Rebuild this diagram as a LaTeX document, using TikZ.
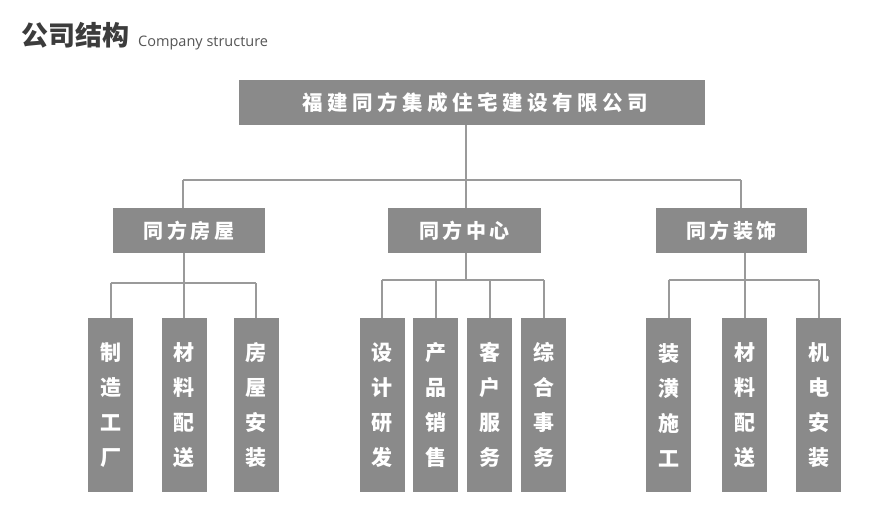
\documentclass[tikz,border=0pt]{standalone}
\usepackage{fontspec}
\setmainfont{Open Sans}
\newfontfamily\cjk{Noto Sans CJK SC Black}
\definecolor{boxgray}{HTML}{8A8A8A}
\definecolor{linegray}{HTML}{9A9A9A}
\definecolor{titlegray}{HTML}{3C3C3C}
\definecolor{subgray}{HTML}{555555}
\makeatletter
\newcommand\spaced[2]{\hspace*{-#1}\def\sp@gap{\hspace*{#1}}\sp@loop#2\@nil}
\def\sp@loop#1{\ifx\@nil#1\else\sp@gap#1\expandafter\sp@loop\fi}
\makeatother
\tikzset{
  topbox/.style={fill=boxgray, text=white, inner sep=0pt, minimum width=466pt, minimum height=45pt,
    font=\cjk\fontsize{20.5}{24}\selectfont},
  midbox/.style={fill=boxgray, text=white, inner sep=0pt, minimum height=45pt,
    font=\cjk\fontsize{20}{24}\selectfont},
  leafbox/.style={fill=boxgray, text=white, inner sep=0pt, minimum width=45pt, minimum height=174pt,
    align=center, font=\cjk\fontsize{21}{35}\selectfont},
  conn/.style={draw=linegray, line width=2pt}
}
\begin{document}
\begin{tikzpicture}[x=1pt,y=-1pt]
\fill[white] (0,0) rectangle (884,523);
\useasboundingbox (0,0) rectangle (884,523);

\node[anchor=base west, inner sep=0pt, text=titlegray, font=\cjk\fontsize{27}{30}\selectfont] (title) at (21,45) {公司结构};
\node[anchor=base west, inner sep=0pt, text=subgray, font=\fontsize{14.5}{17}\selectfont] (subtitle) at (138,46) {Company structure};

\node[topbox] (top) at (472,102.5) {\hspace*{6pt}\spaced{4.5pt}{福建同方集成住宅建设有限公司}};

\node[midbox, minimum width=152pt] (b1) at (189,230.5) {\spaced{3.5pt}{同方房屋}};
\node[midbox, minimum width=153pt] (b2) at (464.5,230.5) {\spaced{3.5pt}{同方中心}};
\node[midbox, minimum width=151pt] (b3) at (731.5,230.5) {\spaced{3.5pt}{同方装饰}};

\node[leafbox] (l11) at (110.5,405) {制\\造\\工\\厂};
\node[leafbox] (l12) at (184,405) {材\\料\\配\\送};
\node[leafbox] (l13) at (256,405) {房\\屋\\安\\装};

\node[leafbox] (l21) at (382,405) {设\\计\\研\\发};
\node[leafbox] (l22) at (435.5,405) {产\\品\\销\\售};
\node[leafbox] (l23) at (489.5,405) {客\\户\\服\\务};
\node[leafbox] (l24) at (543.5,405) {综\\合\\事\\务};

\node[leafbox] (l31) at (668.5,405) {装\\潢\\施\\工};
\node[leafbox] (l32) at (744.5,405) {材\\料\\配\\送};
\node[leafbox] (l33) at (818.5,405) {机\\电\\安\\装};

% top level connectors
\coordinate (j1) at (183,180);
\coordinate (j2) at (466,180);
\coordinate (j3) at (741,180);
\draw[conn] (top.south -| j2) -- (j2);
\draw[conn] (j1) -- (j3);
\draw[conn] (j1) -- (b1.north -| j1);
\draw[conn] (j2) -- (b2.north -| j2);
\draw[conn] (j3) -- (b3.north -| j3);

% group 1
\coordinate (g1) at (184,283);
\draw[conn] (b1.south -| g1) -- (g1);
\draw[conn] (l11.north |- g1) -- (l13.north |- g1);
\foreach \n in {l11,l12,l13} \draw[conn] (\n.north |- g1) -- (\n.north);

% group 2
\coordinate (g2) at (466,280);
\draw[conn] (b2.south -| g2) -- (g2);
\draw[conn] (l21.north |- g2) -- (l24.north |- g2);
\foreach \n in {l21,l22,l23,l24} \draw[conn] (\n.north |- g2) -- (\n.north);

% group 3
\coordinate (g3) at (744.5,280);
\draw[conn] (b3.south -| g3) -- (g3);
\draw[conn] (l31.north |- g3) -- (l33.north |- g3);
\foreach \n in {l31,l32,l33} \draw[conn] (\n.north |- g3) -- (\n.north);
\end{tikzpicture}
\end{document}
